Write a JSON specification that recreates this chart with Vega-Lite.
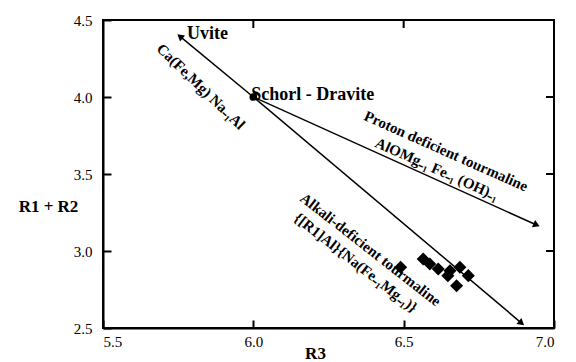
{
  "$schema": "https://vega.github.io/schema/vega-lite/v6.json",
  "width": 451,
  "height": 308,
  "padding": {"left": 18, "top": 13, "right": 5, "bottom": 0},
  "data": {
    "values": [
      {"kind": "sample", "r3": 6.49, "r12": 2.894},
      {"kind": "sample", "r3": 6.565, "r12": 2.948},
      {"kind": "sample", "r3": 6.587, "r12": 2.916},
      {"kind": "sample", "r3": 6.615, "r12": 2.883},
      {"kind": "sample", "r3": 6.647, "r12": 2.84},
      {"kind": "sample", "r3": 6.654, "r12": 2.872},
      {"kind": "sample", "r3": 6.687, "r12": 2.894},
      {"kind": "sample", "r3": 6.715, "r12": 2.84},
      {"kind": "sample", "r3": 6.676, "r12": 2.775},
      {"kind": "vector", "name": "Uvite", "r3": 6.0, "r12": 4.0, "r3_end": 5.756, "r12_end": 4.394},
      {"kind": "vector", "name": "Alkali", "r3": 6.0, "r12": 4.0, "r3_end": 6.892, "r12_end": 2.532},
      {"kind": "vector", "name": "Proton", "r3": 6.0, "r12": 4.0, "r3_end": 6.942, "r12_end": 3.169},
      {"kind": "endmember", "name": "Schorl - Dravite", "r3": 6.0, "r12": 4.0},
      {"kind": "rtick", "r3": 7.0, "r12": 3.0},
      {"kind": "rtick", "r3": 7.0, "r12": 3.5},
      {"kind": "rtick", "r3": 7.0, "r12": 4.0},
      {"kind": "ttick", "r3": 6.0, "r12": 4.5},
      {"kind": "ttick", "r3": 6.5, "r12": 4.5},
      {"kind": "label", "group": "flat", "text": "Uvite", "r3": 5.779, "r12": 4.406},
      {"kind": "label", "group": "flat", "text": "Schorl - Dravite", "r3": 5.993, "r12": 4.013},
      {"kind": "label", "group": "ca", "text": "Ca(Fe,Mg) Na₋₁Al", "r3": 5.826, "r12": 4.068},
      {"kind": "label", "group": "proton", "text": "Proton deficient tourmaline", "r3": 6.641, "r12": 3.649},
      {"kind": "label", "group": "proton", "text": "AlOMg₋₁ Fe₋₁ (OH)₋₁", "r3": 6.611, "r12": 3.532},
      {"kind": "label", "group": "alkali", "text": "Alkali-deficient tourmaline", "r3": 6.39, "r12": 3.01},
      {"kind": "label", "group": "alkali", "text": "{[R1]Al}{Na(Fe₋₁Mg₋₁)}", "r3": 6.341, "r12": 2.925}
    ]
  },
  "encoding": {
    "x": {"field": "r3", "type": "quantitative", "scale": {"domain": [5.5, 7.0], "nice": false, "zero": false},
          "axis": {"orient": "bottom", "values": [5.5, 6.0, 6.5, 7.0], "format": ".1f", "grid": false,
                   "domain": true, "domainColor": "#000000", "domainWidth": 2,
                   "ticks": true, "tickSize": -8, "tickWidth": 2, "tickColor": "#000000",
                   "labelFont": "Liberation Serif", "labelFontSize": 15, "labelColor": "#000000", "labelPadding": 14,
                   "title": "R3", "titleFont": "Liberation Serif", "titleFontSize": 17, "titleFontWeight": "bold", "titleColor": "#000000",
                   "titleX": 212, "titleY": 30, "titleAlign": "center", "titleBaseline": "alphabetic"}},
    "y": {"field": "r12", "type": "quantitative", "scale": {"domain": [2.5, 4.5], "nice": false, "zero": false},
          "axis": {"orient": "left", "values": [2.5, 3.0, 3.5, 4.0, 4.5], "format": ".1f", "grid": false,
                   "domain": true, "domainColor": "#000000", "domainWidth": 2,
                   "ticks": true, "tickSize": -8, "tickWidth": 2, "tickColor": "#000000",
                   "labelFont": "Liberation Serif", "labelFontSize": 15, "labelColor": "#000000", "labelPadding": 19,
                   "title": "R1 + R2", "titleFont": "Liberation Serif", "titleFontSize": 17, "titleFontWeight": "bold", "titleColor": "#000000",
                   "titleAngle": 0, "titleX": -55, "titleY": 191, "titleAlign": "center", "titleBaseline": "alphabetic"}}
  },
  "layer": [
    {
      "transform": [{"filter": "datum.kind === 'rtick'"}],
      "mark": {"type": "tick", "orient": "horizontal", "color": "black", "size": 16, "thickness": 2, "clip": true, "opacity": 1}
    },
    {
      "transform": [{"filter": "datum.kind === 'ttick'"}],
      "mark": {"type": "tick", "orient": "vertical", "color": "black", "size": 16, "thickness": 2, "clip": true, "opacity": 1}
    },
    {
      "transform": [{"filter": "datum.kind === 'vector'"}],
      "mark": {"type": "rule", "color": "black", "strokeWidth": 1.5},
      "encoding": {
        "x2": {"field": "r3_end"},
        "y2": {"field": "r12_end"}
      }
    },
    {
      "transform": [{"filter": "datum.kind === 'sample'"}],
      "mark": {"type": "point", "shape": "diamond", "filled": true, "color": "black", "opacity": 1, "size": 170}
    },
    {
      "transform": [{"filter": "datum.kind === 'endmember'"}],
      "mark": {"type": "point", "shape": "circle", "filled": true, "color": "black", "opacity": 1, "size": 60}
    },
    {
      "transform": [{"filter": "datum.name === 'Uvite' && datum.kind === 'vector'"}],
      "mark": {"type": "point", "shape": "triangle-up", "filled": true, "color": "black", "opacity": 1, "size": 60, "angle": 310},
      "encoding": {
        "x": {"field": "r3_end", "type": "quantitative"},
        "y": {"field": "r12_end", "type": "quantitative"}
      }
    },
    {
      "transform": [{"filter": "datum.name === 'Alkali' && datum.kind === 'vector'"}],
      "mark": {"type": "point", "shape": "triangle-up", "filled": true, "color": "black", "opacity": 1, "size": 60, "angle": 130},
      "encoding": {
        "x": {"field": "r3_end", "type": "quantitative"},
        "y": {"field": "r12_end", "type": "quantitative"}
      }
    },
    {
      "transform": [{"filter": "datum.name === 'Proton' && datum.kind === 'vector'"}],
      "mark": {"type": "point", "shape": "triangle-up", "filled": true, "color": "black", "opacity": 1, "size": 60, "angle": 114},
      "encoding": {
        "x": {"field": "r3_end", "type": "quantitative"},
        "y": {"field": "r12_end", "type": "quantitative"}
      }
    },
    {
      "transform": [{"filter": "datum.kind === 'label' && datum.group === 'flat'"}],
      "mark": {"type": "text", "font": "Liberation Serif", "fontWeight": "bold", "fontSize": 18, "align": "left", "baseline": "middle", "color": "black"},
      "encoding": {"text": {"field": "text"}}
    },
    {
      "transform": [{"filter": "datum.kind === 'label' && datum.group === 'ca'"}],
      "mark": {"type": "text", "font": "Liberation Serif", "fontWeight": "bold", "fontSize": 15, "align": "center", "baseline": "middle", "color": "black", "angle": 44},
      "encoding": {"text": {"field": "text"}}
    },
    {
      "transform": [{"filter": "datum.kind === 'label' && datum.group === 'proton'"}],
      "mark": {"type": "text", "font": "Liberation Serif", "fontWeight": "bold", "fontSize": 15, "align": "center", "baseline": "middle", "color": "black", "angle": 24},
      "encoding": {"text": {"field": "text"}}
    },
    {
      "transform": [{"filter": "datum.kind === 'label' && datum.group === 'alkali'"}],
      "mark": {"type": "text", "font": "Liberation Serif", "fontWeight": "bold", "fontSize": 15, "align": "center", "baseline": "middle", "color": "black", "angle": 38},
      "encoding": {"text": {"field": "text"}}
    }
  ],
  "config": {
    "font": "Liberation Serif",
    "view": {"stroke": "#000000", "strokeWidth": 2}
  }
}
